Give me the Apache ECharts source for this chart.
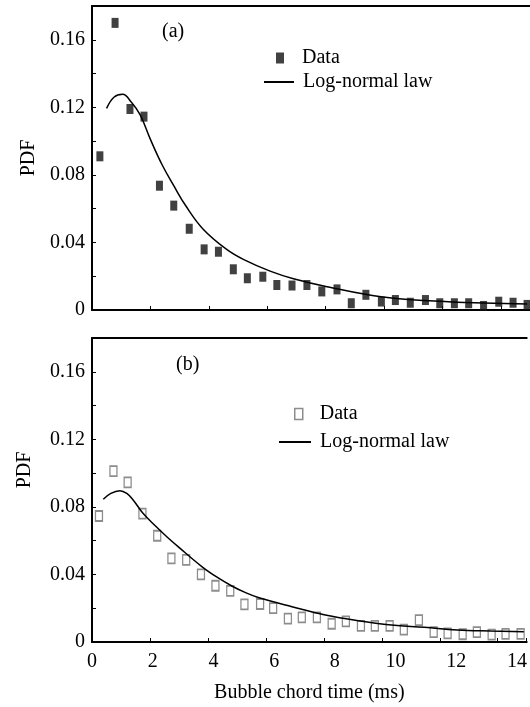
<!DOCTYPE html>
<html><head><meta charset="utf-8">
<script src="https://cdn.jsdelivr.net/npm/echarts@6/dist/echarts.min.js"></script>
<style>html,body{margin:0;padding:0;background:#fff}#c{width:530px;height:707px}</style>
</head><body><div id="c"></div>
<script>
// Panel (a) measured data
const binTimeA = [0.27,0.79,1.30,1.78,2.31,2.80,3.33,3.84,4.33,4.84,5.32,5.85,6.33,6.85,7.36,7.87,8.39,8.88,9.38,9.91,10.39,10.90,11.42,11.91,12.41,12.90,13.41,13.93,14.42,14.90];
const pdfA = [0.091,0.170,0.119,0.1145,0.0736,0.0618,0.0481,0.0359,0.0345,0.0241,0.0188,0.0197,0.0148,0.0145,0.0148,0.0110,0.0122,0.0040,0.0090,0.0050,0.0059,0.0043,0.0059,0.0040,0.0040,0.0040,0.0024,0.0049,0.0043,0.0030];
// Panel (a) log-normal curve
const fitTimeA = [0.50,0.75,1.05,1.35,1.65,2.00,2.40,2.80,3.20,3.80,4.60,5.20,6.10,6.90,8.05,9.90,12.20,14.90];
const fitA = [0.1194,0.1260,0.1277,0.1230,0.1155,0.1010,0.0860,0.0736,0.0620,0.0480,0.0360,0.0298,0.0230,0.0185,0.0138,0.0079,0.0049,0.0036];
// Panel (b) measured data
const binTimeB = [0.24,0.74,1.23,1.74,2.25,2.74,3.25,3.76,4.26,4.77,5.26,5.80,6.25,6.76,7.24,7.76,8.27,8.76,9.28,9.76,10.27,10.76,11.28,11.79,12.27,12.79,13.28,13.79,14.27,14.79];
const pdfB = [0.0746,0.1012,0.0945,0.0760,0.0629,0.0495,0.0486,0.0400,0.0333,0.0303,0.0223,0.0225,0.0200,0.0138,0.0146,0.0146,0.0108,0.0122,0.0096,0.0096,0.0095,0.0073,0.0130,0.0059,0.0051,0.0046,0.0059,0.0044,0.0048,0.0048];
// Panel (b) log-normal curve
const fitTimeB = [0.39,0.65,0.96,1.20,1.42,1.76,2.20,2.60,3.00,3.80,4.30,4.84,5.30,5.76,6.90,8.05,9.19,10.33,11.47,12.60,13.76,14.90];
const fitB = [0.0845,0.0880,0.0896,0.0880,0.0841,0.0762,0.0685,0.0620,0.0560,0.0445,0.0385,0.0330,0.0292,0.0262,0.0209,0.0160,0.0126,0.0101,0.0087,0.0071,0.0065,0.0061];
// Axis settings
const xTickStep = 2;
const yTickStep = 0.02;

const FONT = "'Liberation Serif','Times New Roman',serif";
const zip = (xs, ys) => xs.map((x, i) => [x, ys[i]]);
const yFmt = v => { const r = Math.round(v * 100); if (r % 4 !== 0) return ''; return r === 0 ? '0' : v.toFixed(2); };
const txt = {fontFamily: FONT, fontSize: 20, color: '#000'};

function yAxis(grid, gap, pad) {
  return {
    type: 'value', gridIndex: grid, min: 0, max: 0.18, interval: yTickStep,
    axisLine: {show: true, lineStyle: {color: '#000', width: 2}},
    axisTick: {show: true, inside: true, length: 4, lineStyle: {color: '#000', width: 1}},
    axisLabel: Object.assign({formatter: yFmt, margin: 7}, txt),
    splitLine: {show: false},
    name: 'PDF', nameLocation: 'middle', nameRotate: 90, nameGap: gap,
    nameTextStyle: Object.assign({padding: pad}, txt)
  };
}
function xMain(grid) {
  return {
    type: 'value', gridIndex: grid, min: 0, max: 15, interval: xTickStep, position: 'bottom',
    axisLine: {show: true, onZero: false, lineStyle: {color: '#000', width: 2}},
    axisTick: {show: true, inside: true, length: 4, lineStyle: {color: '#000', width: 1}},
    axisLabel: {show: false}, splitLine: {show: false}
  };
}
function xTop(grid) {
  return {
    type: 'value', gridIndex: grid, min: 0, max: 15, position: 'top',
    axisLine: {show: true, onZero: false, lineStyle: {color: '#000', width: 2}},
    axisTick: {show: false}, axisLabel: {show: false}, splitLine: {show: false}
  };
}
const legendBase = {orient: 'vertical', padding: 0, itemGap: 0, selectedMode: false};

const chart = echarts.init(document.getElementById('c'), null, {renderer: 'canvas'});
chart.setOption({
  animation: false,
  backgroundColor: '#fff',
  grid: [
    {left: 92, right: 0, top: 6, height: 304, containLabel: false},
    {left: 92, right: 0, top: 338, height: 304, containLabel: false}
  ],
  title: [
    {text: '(a)', left: 162, top: 22, padding: 0, textStyle: Object.assign({fontWeight: 'normal'}, txt)},
    {text: '(b)', left: 176, top: 355, padding: 0, textStyle: Object.assign({fontWeight: 'normal'}, txt)}
  ],
  xAxis: [
    xMain(0), xTop(0), xMain(1), xTop(1),
    {
      type: 'value', gridIndex: 1, min: 0, max: 14.32, interval: xTickStep, position: 'bottom',
      axisLine: {show: false}, axisTick: {show: false}, splitLine: {show: false},
      axisLabel: Object.assign({margin: 10, formatter: v => (Math.abs(v - Math.round(v)) < 1e-6 && Math.round(v) % 2 === 0) ? String(Math.round(v)) : ''}, txt),
      name: 'Bubble chord time (ms)', nameLocation: 'middle', nameGap: 41, nameTextStyle: txt
    }
  ],
  yAxis: [yAxis(0, 44, [0, 0, 0, 0]), yAxis(1, 57, [0, 0, 0, 40])],
  legend: [
    Object.assign({}, legendBase, {left: 276, top: 48, itemWidth: 8, itemHeight: 11, data: ['Data'],
      textStyle: Object.assign({padding: [0, 0, 0, 13], lineHeight: 20}, txt)}),
    Object.assign({}, legendBase, {left: 263, top: 72, itemWidth: 30, itemHeight: 11, data: ['Log-normal law'],
      itemStyle: {opacity: 0},
      textStyle: Object.assign({padding: [0, 0, 0, 4], lineHeight: 20}, txt)}),
    Object.assign({}, legendBase, {left: 294, top: 404, itemWidth: 8, itemHeight: 11, data: ['Data (b)'],
      formatter: () => 'Data',
      itemStyle: {color: '#fff', borderColor: '#707070', borderWidth: 1.5},
      textStyle: Object.assign({padding: [0, 0, 0, 12], lineHeight: 20}, txt)}),
    Object.assign({}, legendBase, {left: 278, top: 432, itemWidth: 32, itemHeight: 11, data: ['Log-normal law (b)'],
      formatter: () => 'Log-normal law',
      itemStyle: {opacity: 0},
      textStyle: Object.assign({padding: [0, 0, 0, 4], lineHeight: 20}, txt)})
  ],
  series: [
    {type: 'scatter', name: 'Data', xAxisIndex: 0, yAxisIndex: 0, symbol: 'rect', symbolSize: [7, 10], symbolKeepAspect: false,
      itemStyle: {color: '#111'}, data: zip(binTimeA, pdfA)},
    {type: 'line', name: 'Log-normal law', xAxisIndex: 0, yAxisIndex: 0, smooth: 0.4, symbol: 'none',
      lineStyle: {color: '#000', width: 1.5}, itemStyle: {color: '#000'}, data: zip(fitTimeA, fitA)},
    {type: 'scatter', name: 'Data (b)', xAxisIndex: 2, yAxisIndex: 1, symbol: 'rect', symbolSize: [7, 10], symbolKeepAspect: false,
      itemStyle: {color: '#fff', borderColor: '#707070', borderWidth: 1.5}, data: zip(binTimeB, pdfB)},
    {type: 'line', name: 'Log-normal law (b)', xAxisIndex: 2, yAxisIndex: 1, smooth: 0.4, symbol: 'none',
      lineStyle: {color: '#000', width: 1.5}, itemStyle: {color: '#000'}, data: zip(fitTimeB, fitB)}
  ]
});
</script>
</body></html>
